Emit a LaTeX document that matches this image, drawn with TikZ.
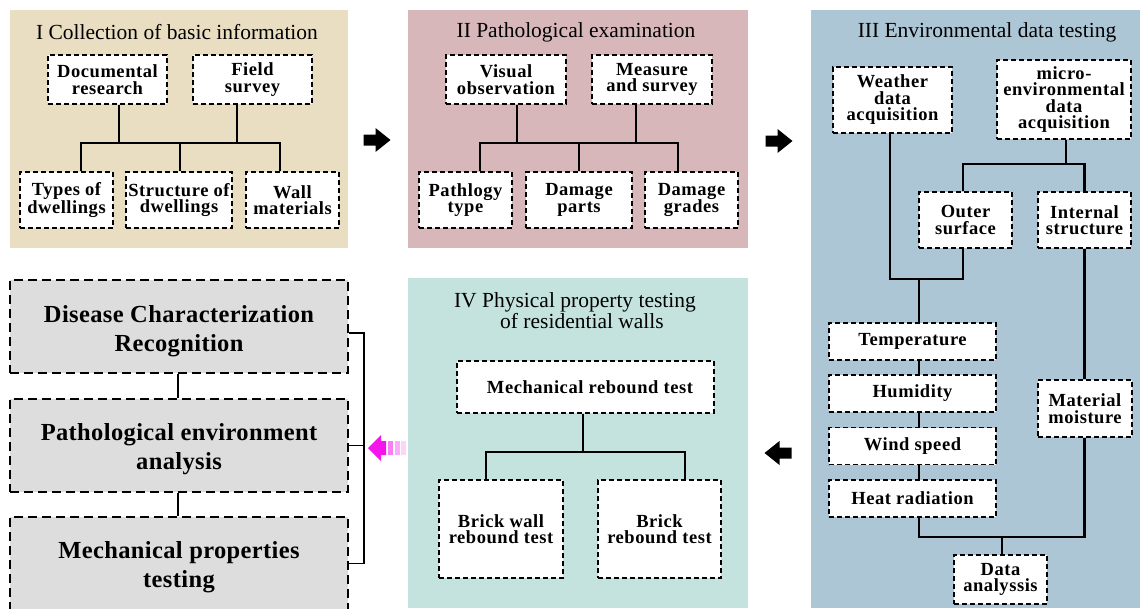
\documentclass[tikz,border=0pt]{standalone}
\usepackage{fontspec}
\setmainfont{Liberation Serif}
\newfontfamily\boxfont[LetterSpace=3]{Liberation Serif}
\newfontfamily\bigboxfont[LetterSpace=1.5]{Liberation Serif}
\usetikzlibrary{positioning,calc}
\definecolor{panelA}{RGB}{234,222,194}
\definecolor{panelB}{RGB}{216,183,187}
\definecolor{panelC}{RGB}{173,198,214}
\definecolor{panelD}{RGB}{197,227,222}
\definecolor{boxgrey}{RGB}{221,221,221}
\definecolor{pinkarrow}{RGB}{245,20,235}
\tikzset{
  ttl/.style      = {font=\fontsize{21.5}{18}\selectfont, inner sep=0pt, align=center},
  dbox/.style     = {draw=black, fill=white, line width=1.3pt, dash pattern=on 5pt off 3pt,
                     font=\boxfont\fontsize{18.5}{16.5}\selectfont\bfseries, align=center, inner sep=0pt},
  gbox/.style     = {draw=black, fill=boxgrey, line width=1.8pt, dash pattern=on 9pt off 5pt,
                     font=\bigboxfont\fontsize{24.5}{29}\selectfont\bfseries, align=center, inner sep=0pt,
                     minimum width=338pt, minimum height=93pt},
  sz/.style 2 args = {minimum width=#1, minimum height=#2},
  conn/.style     = {line width=2.3pt},
  brk/.style      = {line width=1.8pt},
}

\begin{document}
\begin{tikzpicture}[x=1pt,y=-1pt]
  \clip (0,0) rectangle (1140,608);
  \fill[white] (0,0) rectangle (1140,608);

  % ----- panels -----
  \fill[panelA] (10,10) rectangle (348,248);
  \fill[panelB] (408,10) rectangle (748,248);
  \fill[panelC] (811,10) rectangle (1140,608);
  \fill[panelD] (408,278) rectangle (748,608);

  % ----- I basic information -----
  \node[ttl] (tI) at (177,32) {I Collection of basic information};
  \node[dbox, sz={119pt}{49pt}] (doc)   at (107.5,79.5) {Documental\\research};
  \node[dbox, sz={119pt}{49pt}] (field) at (252.5,79.5) {Field\\survey};
  \node[dbox, sz={93pt}{56pt}]  (types) at (66.5,200)   {Types of\\dwellings};
  \node[dbox, sz={106pt}{56pt}] (struc) at (179,200)    {Structure of\\dwellings};
  \node[dbox, sz={93pt}{56pt}]  (wall)  at (292.5,200)  {Wall\\materials};
  \coordinate (jI) at (180,143);
  \draw[conn] ([xshift=11.5pt]doc.south) |- (jI);
  \draw[conn] ([xshift=-15.5pt]field.south) |- (jI);
  \draw[conn] ([xshift=14.5pt]types.north) |- (jI);
  \draw[conn] ([xshift=-12.5pt]wall.north) |- (jI);
  \draw[conn] (jI) -- (jI |- struc.north);

  % ----- II pathological examination -----
  \node[ttl] (tII) at (576,32) {II Pathological examination};
  \node[dbox, sz={120pt}{49pt}] (visual) at (506,79.5)   {Visual\\observation};
  \node[dbox, sz={120pt}{49pt}] (meas)   at (652,79.5)   {Measure\\and survey};
  \node[dbox, sz={93pt}{56pt}]  (ptype)  at (465.5,200)  {Pathlogy\\type};
  \node[dbox, sz={106pt}{56pt}] (dparts) at (579,200)    {Damage\\parts};
  \node[dbox, sz={93pt}{56pt}]  (dgrade) at (691.5,200)  {Damage\\grades};
  \coordinate (jII) at (579,143);
  \draw[conn] ([xshift=11pt]visual.south) |- (jII);
  \draw[conn] ([xshift=-16pt]meas.south) |- (jII);
  \draw[conn] ([xshift=14.5pt]ptype.north) |- (jII);
  \draw[conn] ([xshift=-13.5pt]dgrade.north) |- (jII);
  \draw[conn] (jII) -- (jII |- dparts.north);

  % ----- III environmental data -----
  \node[ttl] (tIII) at (987,32) {III Environmental data testing};
  \node[dbox, sz={119pt}{66pt}] (weather) at (892.5,100) {Weather\\data\\acquisition};
  \node[dbox, sz={134pt}{79pt}] (micro)   at (1064,99.5) {micro-\\environmental\\data\\acquisition};
  \node[dbox, sz={93pt}{56pt}]  (outer)   at (965.5,220) {Outer\\surface};
  \node[dbox, sz={93pt}{56pt}]  (inner)   at (1084.5,220) {Internal\\structure};
  \node[dbox, sz={167pt}{37pt}] (temp)    at (912.5,341.5) {Temperature};
  \node[dbox, sz={167pt}{37pt}] (humid)   at (912.5,393.5) {Humidity};
  \node[dbox, sz={167pt}{37pt}] (wind)    at (912.5,446)   {Wind speed};
  \node[dbox, sz={167pt}{37pt}] (heat)    at (912.5,498.5) {Heat radiation};
  \node[dbox, sz={94pt}{57pt}]  (moist)   at (1085,408.5)  {Material\\moisture};
  \node[dbox, sz={93pt}{49pt}]  (data)    at (1000.5,579.5) {Data\\analyssis};
  \coordinate (mj) at (1066,164);
  \coordinate (wj) at (919,279);
  \coordinate (dj) at (1002,537);
  \draw[conn] (mj |- micro.south) -- (mj);
  \draw[conn] ([xshift=-2.5pt]outer.north) |- (mj);
  \draw[conn] (inner.north) |- (mj);
  \draw[conn] ([xshift=-2.5pt]weather.south) |- (wj);
  \draw[conn] ([xshift=-2.5pt]outer.south) |- (wj);
  \draw[conn] (wj) -- (wj |- temp.north);
  \draw[conn] (wj |- temp.south) -- (wj |- humid.north);
  \draw[conn] (wj |- humid.south) -- (wj |- wind.north);
  \draw[conn] (wj |- wind.south) -- (wj |- heat.north);
  \draw[conn] (wj |- heat.south) |- (dj);
  \draw[conn] (inner.south) -- (inner.south |- moist.north);
  \draw[conn] (inner.south |- moist.south) |- (dj);
  \draw[conn] (dj) -- (dj |- data.north);

  % ----- IV physical property testing -----
  \node[ttl] (tIV) at (575,311) {IV Physical property testing\\\hspace*{14pt}of residential walls};
  \node[dbox, sz={257pt}{52pt}] (mech)  at (585.5,387) {\hspace*{9pt}Mechanical rebound test};
  \node[dbox, sz={124pt}{98pt}] (bwall) at (501,529)   {Brick wall\\rebound test};
  \node[dbox, sz={123pt}{98pt}] (brick) at (659.5,529) {Brick\\rebound test};
  \coordinate (jIV) at (583,452);
  \draw[conn] (jIV |- mech.south) -- (jIV);
  \draw[conn] ([xshift=-15pt]bwall.north) |- (jIV);
  \draw[conn] ([xshift=25.5pt]brick.north) |- (jIV);

  % ----- results -----
  \node[gbox] (disease) at (179,326.5) {\rule{0pt}{26pt}Disease Characterization\\Recognition};
  \node[gbox] (pathenv) at (179,445.5) {\rule{0pt}{24pt}Pathological environment\\analysis};
  \node[gbox] (mechprop) at (179,563.5) {\rule{0pt}{24pt}Mechanical properties\\testing};
  \draw[brk] ([xshift=-1pt]disease.south) -- ([xshift=-1pt]pathenv.north);
  \draw[brk] ([xshift=-1pt]pathenv.south) -- ([xshift=-1pt]mechprop.north);
  \coordinate (brx) at (364,445.5);
  \draw[brk] ([yshift=-6.5pt]disease.east) -| (brx);
  \draw[brk] (mechprop.east) -| (brx);
  \draw[brk] (pathenv.east) -- (brx);

  % ----- flow arrows -----
  \foreach \x/\y/\d in {377/140/1, 779/141/1, 778/453/-1} {
    \fill[shift={(\x,\y)}, xscale=\d] (-13.5,-5.5) -- (-1.5,-5.5) -- (-1.5,-12) -- (13.5,0)
      -- (-1.5,12) -- (-1.5,5.5) -- (-13.5,5.5) -- cycle;
  }
  \fill[pinkarrow] (368,448) -- (381,435) -- (381,441) -- (386,441) -- (386,455)
    -- (381,455) -- (381,461) -- cycle;
  \foreach \x/\o in {388/0.55, 395/0.35, 401/0.18} {
    \fill[pinkarrow, opacity=\o] (\x,441) rectangle ++(4.5,14);
  }
\end{tikzpicture}
\end{document}
